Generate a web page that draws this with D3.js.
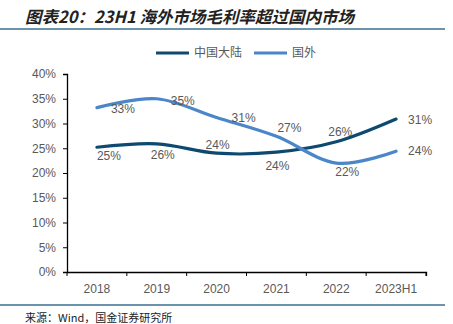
<!DOCTYPE html>
<html>
<head>
  <meta charset="utf-8"/>
  <title>23H1 海外市场毛利率</title>
  <style type="text/css">
    body {
      padding:0;
      margin:0;
      background-color:white;
    }
    text {
      font-family: "Liberation Sans", Arial, sans-serif;
    }
  </style>
  <script src="https://cdn.jsdelivr.net/npm/d3@7/dist/d3.min.js" charset="utf-8"></script>
</head>

<body>
  <script type="text/javascript">

  var w = 453, h = 324;

  // DATA
  var years = ["2018", "2019", "2020", "2021", "2022", "2023H1"];
  var domestic = [25.2, 25.9, 24.0, 24.2, 26.3, 30.9];   // 中国大陆
  var overseas = [33.2, 35.0, 31.2, 27.4, 22.0, 24.4];   // 国外
  var yTicks = [0, 5, 10, 15, 20, 25, 30, 35, 40];

  // label offsets from each point [dx, dy]
  var domesticLabelPos = [[12, 9], [6, 11], [1, -8], [1, 14], [4, -10], [24, 1]];
  var overseasLabelPos = [[26, 1], [26, 2], [27, 0], [13, -9], [11, 9], [24, 0]];

  // COLORS
  var darkBlue = "#0e4a6f",
      lightBlue = "#4a86c8",
      ruleBlue = "#3b6f93",
      textGray = "#595959";

  var svg = d3.select("body").append("svg")
              .attr("width", w)
              .attr("height", h);

  // header
  svg.append("text")
     .attr("x", 25)
     .attr("y", 23)
     .style("font-family", "'Noto Sans CJK SC', sans-serif")
     .style("font-size", "16.5px")
     .style("font-weight", "bold")
     .style("font-style", "italic")
     .style("fill", "#222")
     .text("图表20：23H1 海外市场毛利率超过国内市场");

  svg.append("line")
     .attr("x1", 0).attr("x2", 445)
     .attr("y1", 29).attr("y2", 29)
     .style("stroke", ruleBlue)
     .style("stroke-width", 1.5);

  svg.append("line")
     .attr("x1", 0).attr("x2", 445)
     .attr("y1", 305).attr("y2", 305)
     .style("stroke", ruleBlue)
     .style("stroke-width", 1.5);

  svg.append("text")
     .attr("x", 25)
     .attr("y", 322)
     .style("font-family", "'Noto Sans CJK SC', sans-serif")
     .style("font-size", "11px")
     .style("fill", "#222")
     .text("来源：Wind，国金证券研究所");

  // SCALES
  var x = d3.scaleBand().domain(years).range([67, 426]);
  var y = d3.scaleLinear().domain([0, 40]).range([272, 74]);

  var plot = svg.append("g");

  // y axis
  var yAxis = plot.append("g")
                  .attr("transform", "translate(67,0)")
                  .call(d3.axisLeft(y).tickValues(yTicks).tickSize(4).tickPadding(7)
                          .tickFormat(function(d) { return d + "%"; }));

  // x axis
  var xAxis = plot.append("g")
                  .attr("transform", "translate(0,272)")
                  .call(d3.axisBottom(x).tickSize(0).tickPadding(12));

  // band boundary ticks
  xAxis.selectAll(".band-tick")
       .data(years.concat([null]))
       .enter().append("line")
       .attr("class", "band-tick")
       .attr("x1", function(d, i) { return 67 + i * x.step(); })
       .attr("x2", function(d, i) { return 67 + i * x.step(); })
       .attr("y1", 0).attr("y2", 4)
       .style("stroke", "#000");

  [yAxis, xAxis].forEach(function(a) {
    a.select(".domain").style("stroke", "#000").style("stroke-width", 1.3);
    a.selectAll(".tick line").style("stroke", "#000");
    a.selectAll("text")
     .style("font-family", "'Liberation Sans', Arial, sans-serif")
     .style("font-size", "12px")
     .style("fill", textGray);
  });
  yAxis.select(".domain").attr("d", "M-4,272.5H0.5V74.5H-4");
  xAxis.select(".domain").attr("d", "M67,0.5H426.5V4");

  // LINES
  var line = d3.line()
               .x(function(d, i) { return x(years[i]) + x.bandwidth() / 2; })
               .y(function(d) { return y(d); })
               .curve(d3.curveCardinal.tension(0));

  var series = [
    { values: domestic, color: darkBlue, labels: domesticLabelPos },
    { values: overseas, color: lightBlue, labels: overseasLabelPos }
  ];

  series.forEach(function(s) {
    plot.append("path")
        .datum(s.values)
        .attr("d", line)
        .style("fill", "none")
        .style("stroke", s.color)
        .style("stroke-width", 3.2)
        .style("stroke-linecap", "round");
  });

  series.forEach(function(s) {
    plot.selectAll(null)
        .data(s.values)
        .enter().append("text")
        .attr("x", function(d, i) { return x(years[i]) + x.bandwidth() / 2 + s.labels[i][0]; })
        .attr("y", function(d, i) { return y(d) + s.labels[i][1]; })
        .attr("dy", "0.35em")
        .attr("text-anchor", "middle")
        .style("font-size", "12px")
        .style("fill", textGray)
        .text(function(d) { return Math.round(d) + "%"; });
  });

  // LEGEND
  var legend = svg.append("g").attr("transform", "translate(0,53)");
  var legendItems = [
    { name: "中国大陆", color: darkBlue, x: 156 },
    { name: "国外", color: lightBlue, x: 254 }
  ];
  legendItems.forEach(function(l) {
    legend.append("line")
          .attr("x1", l.x).attr("x2", l.x + 33)
          .attr("y1", 0).attr("y2", 0)
          .style("stroke", l.color)
          .style("stroke-width", 3.2);
    legend.append("text")
          .attr("x", l.x + 38)
          .attr("y", 0)
          .attr("dy", "0.35em")
          .style("font-family", "'Noto Sans CJK SC', sans-serif")
          .style("font-size", "12px")
          .style("fill", textGray)
          .text(l.name);
  });

  </script>
</body>
</html>
